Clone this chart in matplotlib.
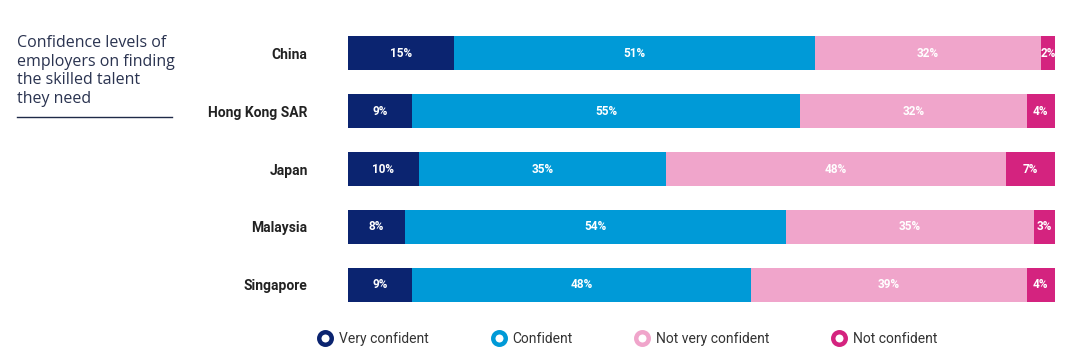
import numpy as np
import matplotlib.pyplot as plt
from matplotlib.lines import Line2D

plt.rcParams['font.family'] = ['Liberation Sans Narrow', 'Roboto', 'DejaVu Sans']

# data
countries = ['China', 'Hong Kong SAR', 'Japan', 'Malaysia', 'Singapore']
very_confident = [15, 9, 10, 8, 9]
confident = [51, 55, 35, 54, 48]
not_very_confident = [32, 32, 48, 35, 39]
not_confident = [2, 4, 7, 3, 4]
series_names = ['Very confident', 'Confident', 'Not very confident', 'Not confident']
colors = ['#0b2470', '#009ad7', '#f0a5cb', '#d4237f']

W, H = 1075, 364
fig = plt.figure(figsize=(W / 100, H / 100), dpi=100)
# axes placed in pixel terms
ax = fig.add_axes([348 / W, 1 - 302 / H, (1055 - 348) / W, (302 - 36) / H])

series = [very_confident, confident, not_very_confident, not_confident]
y = np.arange(len(countries))
left = np.zeros(len(countries))
for vals, col in zip(series, colors):
    vals = np.array(vals)
    ax.barh(y, vals, left=left, height=0.59, color=col, edgecolor='none')
    for yi, l, v in zip(y, left, vals):
        ax.text(l + v / 2, yi, f'{v}%', ha='center', va='center', color='white',
                fontsize=8.5, fontweight='bold')
    left = left + vals

ax.set_xlim(0, 100)
ax.set_ylim(4.3, -0.3)
ax.set_yticks(y)
ax.set_yticklabels(countries, fontsize=10, fontweight='bold', color='#222222')
ax.tick_params(axis='y', length=0, pad=29)
ax.set_xticks([])
for s in ax.spines.values():
    s.set_visible(False)

# side title
fig.text(17 / W, 1 - 35 / H, 'Confidence levels of\nemployers on finding\nthe skilled talent\nthey need',
         ha='left', va='top', fontsize=11.5, color='#2a3350', linespacing=1.22,
         family=['Open Sans', 'DejaVu Sans'])
fig.add_artist(Line2D([17 / W, 172 / W], [1 - 117 / H, 1 - 117 / H], color='#1f2a48', lw=1))

# legend
handles = [Line2D([], [], marker='o', ls='none', markersize=9, markerfacecolor='white',
                  markeredgecolor=c, markeredgewidth=3.2) for c in colors]
fig.legend(handles, series_names, loc='center left', bbox_to_anchor=(306 / W, 1 - 339 / H),
           ncol=4, frameon=False, fontsize=10, columnspacing=4.5, handletextpad=0.5,
           handlelength=1.0, labelcolor='#333333')

fig.savefig('out.png', dpi=100)
